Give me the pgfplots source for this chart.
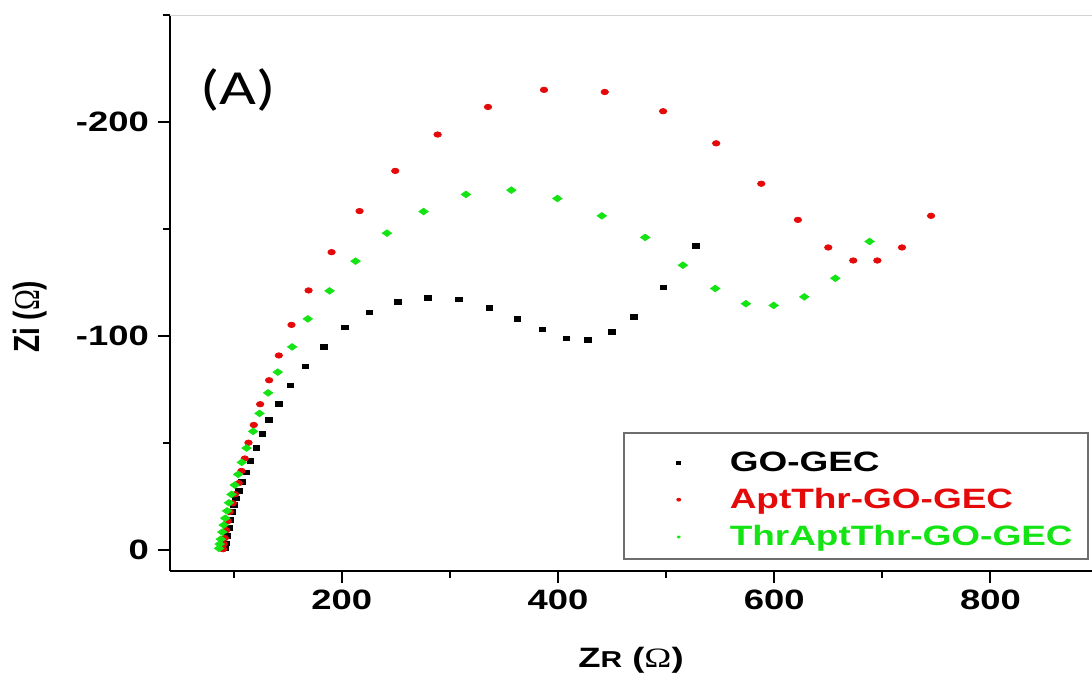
\documentclass[border=0pt]{standalone}
\usepackage{fontspec}
\setmainfont{Liberation Sans}
\newfontfamily\calibri{Carlito}
\newfontfamily\serifom{Liberation Serif}
\usepackage{pgfplots}
\pgfplotsset{compat=1.18}
\definecolor{myred}{RGB}{228,10,10}
\definecolor{mygreen}{RGB}{20,228,20}
\definecolor{leggray}{RGB}{110,110,110}
\newcommand{\om}{{\mdseries\serifom Ω}}
\begin{document}
\begin{tikzpicture}
\begin{axis}[
  scale only axis, width=461pt, height=278pt,
  xmin=41, xmax=894, ymin=-250, ymax=10, y dir=reverse,
  axis x line*=bottom, axis y line*=left,
  axis line style={line width=1pt, -},
  xtick={200,400,600,800}, xticklabels={200,400,600,800},
  minor xtick={100,300,500,700},
  ytick={0,-100,-200}, yticklabels={0,-100,-200},
  minor ytick={-50,-150,-250},
  tick align=outside, major tick length=6pt, minor tick length=3.5pt,
  every tick/.style={black, line width=1pt},
  tick label style={font=\bfseries\fontsize{14}{16}\selectfont, xscale=1.3},
  xlabel={Z{\fontsize{11.5}{12}\selectfont R} (\om)},
  xlabel style={at={(axis description cs:0.5,-0.160)}, anchor=center, font=\bfseries\fontsize{14}{16}\selectfont, xscale=1.3},
  ylabel={Zi (\om)},
  ylabel style={at={(axis description cs:-0.1518,0.457)}, anchor=center, font=\bfseries\fontsize{14}{16}\selectfont, yscale=1.3},
  legend cell align=left,
  legend style={at={(axis description cs:1,0)}, anchor=south east, xshift=-2pt, yshift=4pt,
    draw=none, fill=none, font=\bfseries\fontsize{14}{16}\selectfont,
    inner xsep=3.5pt, inner ysep=5pt, row sep=3pt, column sep=13pt,
    nodes={inner xsep=4pt}},
  legend image code/.code={\path[draw=none,fill=none] (-19.5pt,-4pt) rectangle (8.5pt,4pt); \draw[mark size=1pt] plot coordinates {(0pt,0pt)};},
]
\addplot[only marks, mark=square*, mark size=1.65pt, color=black, mark options={yscale=0.7}] coordinates {
(91.7,-0.7) (92.6,-3.0) (94.0,-6.3) (95.4,-10.1) (96.8,-13.8) (98.1,-17.7)
(100.0,-20.8) (101.9,-23.9) (104.9,-27.4) (107.7,-31.6) (111.8,-36.1)
(115.5,-41.4) (121.0,-47.7) (126.6,-54.2) (132.4,-60.6) (141.7,-68.2)
(152.5,-76.8) (166.4,-85.7) (183.6,-94.9) (202.8,-104.0) (225.3,-110.9)
(251.6,-115.9) (279.6,-117.8) (308.3,-117.0) (336.4,-112.9) (362.3,-107.9)
(385.5,-102.9) (407.7,-98.7) (427.5,-98.0) (449.7,-101.9) (470.4,-108.9)
(497.5,-122.7) (527.5,-141.9)
};
\addlegendentry{\scalebox{1.32}[1]{GO-GEC}}
\addplot[only marks, mark=*, mark size=1.85pt, color=myred, mark options={yscale=0.73}] coordinates {
(90.1,-0.2) (90.7,-2.6) (91.7,-5.4) (93.1,-9.1) (94.4,-13.3) (96.3,-17.7)
(99.1,-21.7) (101.2,-25.9) (104.6,-31.1) (107.1,-36.8) (110.2,-42.6)
(113.6,-50.0) (118.5,-58.3) (124.4,-68.0) (132.7,-79.2) (141.7,-90.8)
(153.4,-105.1) (169.2,-121.2) (190.5,-139.1) (216.4,-158.3) (249.4,-177.1)
(288.6,-194.1) (335.2,-207.0) (387.0,-215.0) (443.2,-214.0) (497.2,-205.0)
(546.3,-190.0) (588.0,-171.1) (621.9,-154.2) (650.0,-141.3) (673.1,-135.2)
(695.4,-135.2) (718.2,-141.3) (745.1,-156.1)
};
\addlegendentry{\textcolor{myred}{\scalebox{1.32}[1]{AptThr-GO-GEC}}}
\addplot[only marks, mark=diamond*, mark size=3.1pt, color=mygreen, mark options={yscale=0.53}] coordinates {
(86.4,-0.6) (87.0,-2.6) (88.0,-4.9) (89.4,-8.2) (90.7,-11.5) (92.1,-14.7)
(93.8,-18.1) (95.6,-21.9) (97.9,-25.8) (100.9,-30.2) (104.0,-35.2)
(107.4,-40.8) (111.8,-47.5) (117.9,-55.3) (123.8,-63.7) (131.8,-73.3)
(140.7,-83.0) (154.0,-94.8) (168.5,-107.9) (188.6,-121.0) (212.7,-134.9)
(241.7,-148.0) (275.6,-158.1) (314.8,-166.1) (356.8,-168.1) (399.4,-164.2)
(440.5,-156.1) (480.6,-146.0) (515.5,-133.0) (545.4,-122.1) (573.8,-115.0)
(599.5,-114.2) (627.8,-118.2) (656.5,-126.9) (688.2,-144.1)
};
\addlegendentry{\textcolor{mygreen}{\scalebox{1.32}[1]{ThrAptThr-GO-GEC}}}
\draw[gray!35, line width=0.8pt] (axis cs:41,-250) -- (axis cs:894,-250);
\draw[leggray, line width=0.7pt] (axis description cs:0.4924,0.0216) rectangle (axis description cs:0.9957,0.2482);
\node[font=\calibri\fontsize{24.5}{26}\selectfont, xscale=1.3] at (axis cs:103.7,-214.8) {(A)};
\coordinate (SW) at (axis cs:41,10);
\coordinate (NE) at (axis cs:894,-250);
\end{axis}
\pgfresetboundingbox
\path ([shift={(-85pt,-52.5pt)}]SW) rectangle ([shift={(0pt,7.5pt)}]NE);
\end{tikzpicture}
\end{document}
